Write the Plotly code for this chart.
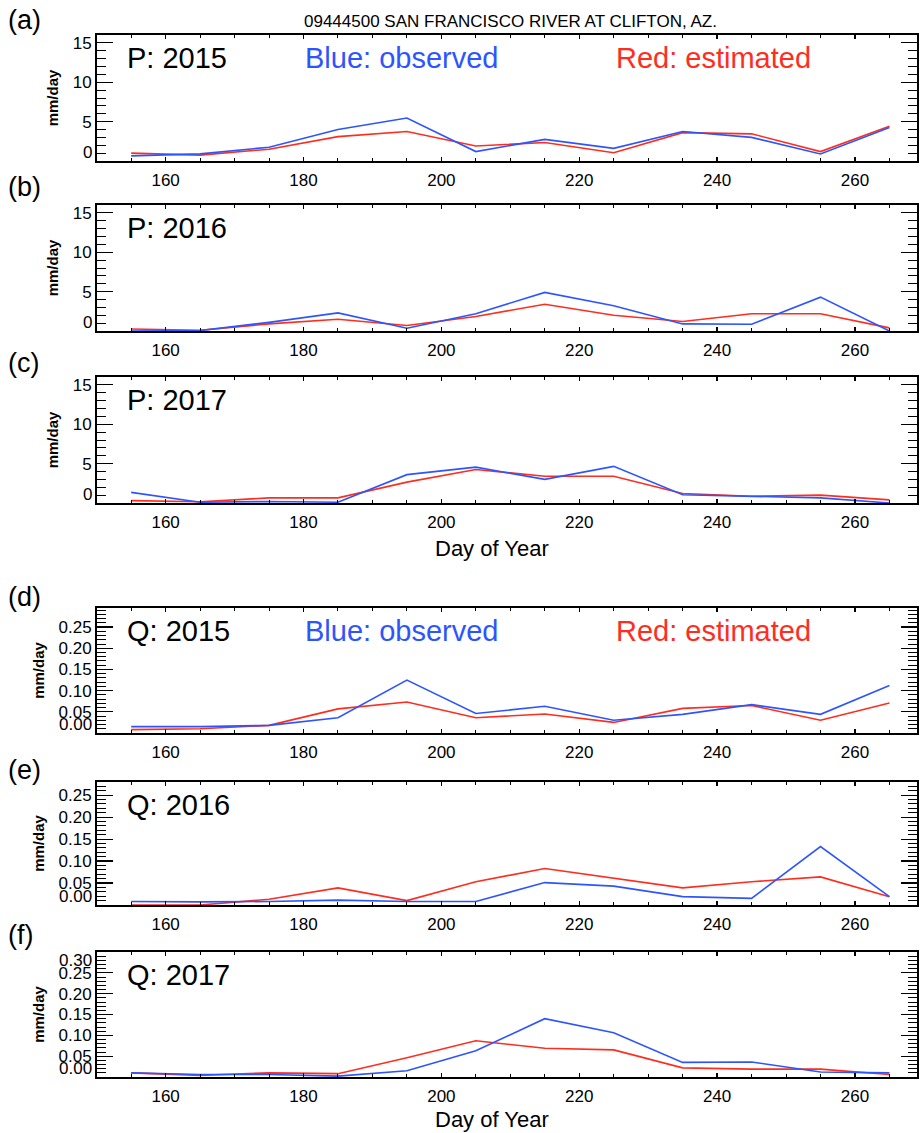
import plotly.graph_objects as go

# ---------------- data ----------------
days = [155, 165, 175, 185, 195, 205, 215, 225, 235, 245, 255, 265]

p_obs_2015 = [0.65, 0.9, 1.75, 4.0, 5.45, 1.2, 2.75, 1.6, 3.75, 3.0, 0.9, 4.25]
p_est_2015 = [1.0, 0.75, 1.5, 3.1, 3.75, 1.9, 2.35, 1.05, 3.6, 3.45, 1.2, 4.4]
p_obs_2016 = [0.0, 0.05, 1.1, 2.3, 0.35, 2.2, 4.9, 3.2, 0.9, 0.85, 4.3, 0.0]
p_est_2016 = [0.25, 0.1, 0.9, 1.5, 0.7, 1.85, 3.4, 2.0, 1.2, 2.2, 2.2, 0.4]
p_obs_2017 = [1.35, 0.1, 0.2, 0.1, 3.6, 4.55, 3.0, 4.65, 1.05, 0.85, 0.65, 0.0]
p_est_2017 = [0.3, 0.15, 0.65, 0.65, 2.65, 4.25, 3.4, 3.4, 1.2, 0.85, 1.0, 0.4]

q_obs_2015 = [0.015, 0.015, 0.018, 0.036, 0.125, 0.046, 0.063, 0.030, 0.044, 0.067, 0.044, 0.112]
q_est_2015 = [0.008, 0.010, 0.018, 0.057, 0.073, 0.036, 0.045, 0.025, 0.058, 0.065, 0.030, 0.071]
q_obs_2016 = [0.008, 0.007, 0.008, 0.011, 0.008, 0.008, 0.051, 0.043, 0.019, 0.015, 0.133, 0.019]
q_est_2016 = [0.0, 0.0, 0.013, 0.039, 0.010, 0.053, 0.083, 0.061, 0.039, 0.053, 0.064, 0.019]
q_obs_2017 = [0.010, 0.006, 0.006, 0.002, 0.015, 0.063, 0.140, 0.106, 0.035, 0.036, 0.012, 0.010]
q_est_2017 = [0.010, 0.004, 0.010, 0.008, 0.046, 0.087, 0.069, 0.065, 0.022, 0.019, 0.019, 0.006]

panel_letters = ["(a)", "(b)", "(c)", "(d)", "(e)", "(f)"]
panel_names = ["P: 2015", "P: 2016", "P: 2017", "Q: 2015", "Q: 2016", "Q: 2017"]
title_text = "09444500 SAN FRANCISCO RIVER AT CLIFTON, AZ."
x_title = "Day of Year"

p_ticks = [0, 5, 10, 15]
q_ticks = [0.0, 0.05, 0.10, 0.15, 0.20, 0.25, 0.30]

# ---------------- layout geometry (pixels) ----------------
W, H = 920, 1133
X0, X1 = 96.7, 917.0
boxes = [(35, 161), (205, 331), (377, 503), (608, 733), (782, 905), (952, 1077)]
letter_y = [20, 187, 363, 597, 770, 935]
xtitle_y = {2: 548, 5: 1119}
yranges = [[0, 16], [0, 16], [0, 16], [0, 0.295], [0, 0.28], [0, 0.30]]

BLUE = "rgb(45,85,255)"
RED = "rgb(255,45,30)"
FONT = "Liberation Sans"
TICK_SIZE = 17

series = [
    (p_obs_2015, p_est_2015), (p_obs_2016, p_est_2016), (p_obs_2017, p_est_2017),
    (q_obs_2015, q_est_2015), (q_obs_2016, q_est_2016), (q_obs_2017, q_est_2017),
]

fig = go.Figure()
annotations = []

def px_x(x):
    return x / W

def px_y(y):
    return 1 - y / H

for i, (obs, est) in enumerate(series):
    n = "" if i == 0 else str(i + 1)
    xa, ya = "x" + n, "y" + n
    fig.add_trace(go.Scatter(x=days, y=est, mode="lines", line=dict(color=RED, width=1.6),
                             xaxis=xa, yaxis=ya, showlegend=False, hoverinfo="skip"))
    fig.add_trace(go.Scatter(x=days, y=obs, mode="lines", line=dict(color=BLUE, width=1.6),
                             xaxis=xa, yaxis=ya, showlegend=False, hoverinfo="skip"))
    top, bot = boxes[i]
    is_q = i >= 3
    ticks = q_ticks if is_q else p_ticks
    lo, hi = yranges[i]
    tv = [t for t in ticks if lo <= t <= hi + 1e-9]
    fmt = (lambda t: f"{t:.2f}") if is_q else (lambda t: f"{t:g}")
    tt = []
    for t in tv:
        if abs(t - lo) < 1e-9 or abs(t - hi) < 1e-9:
            tt.append("")
        else:
            tt.append(fmt(t))
    fig.layout["xaxis" + n] = dict(
        domain=[px_x(X0), px_x(X1)], anchor=ya, range=[150, 269], automargin=False,
        tick0=160, dtick=20, ticks="inside", ticklen=4, tickwidth=1.2, tickcolor="black",
        minor=dict(dtick=5, tick0=150, ticks="inside", ticklen=3, tickwidth=1, tickcolor="black"),
        showline=True, linecolor="black", linewidth=1.6, mirror="allticks",
        showgrid=False, zeroline=False, ticklabelstandoff=3,
        tickfont=dict(family=FONT, size=TICK_SIZE, color="black"),
    )
    fig.layout["yaxis" + n] = dict(
        domain=[px_y(bot), px_y(top)], anchor=xa, range=[lo, hi], automargin=False,
        tickvals=tv, ticktext=tt, ticks="inside", ticklen=16, tickwidth=1.2, tickcolor="black",
        minor=dict(dtick=0.01 if is_q else 1, tick0=0, ticks="inside", ticklen=9,
                   tickwidth=1, tickcolor="black"),
        showline=True, linecolor="black", linewidth=1.6, mirror="allticks",
        showgrid=False, zeroline=False,
        tickfont=dict(family=FONT, size=TICK_SIZE, color="black"),
        title=dict(text="<b>mm/day</b>", font=dict(family=FONT, size=15, color="black"), standoff=10),
    )
    for t in tv:
        if abs(t - lo) < 1e-9:
            annotations.append(dict(x=0, xref=xa + " domain", y=t, yref=ya, text=fmt(t),
                                    showarrow=False, xanchor="right", yanchor="bottom",
                                    xshift=-3, yshift=-3,
                                    font=dict(family=FONT, size=TICK_SIZE, color="black")))
        elif abs(t - hi) < 1e-9:
            annotations.append(dict(x=0, xref=xa + " domain", y=t, yref=ya, text=fmt(t),
                                    showarrow=False, xanchor="right", yanchor="top",
                                    xshift=-3, yshift=3,
                                    font=dict(family=FONT, size=TICK_SIZE, color="black")))
    annotations.append(dict(x=px_x(6), y=px_y(letter_y[i]), xref="paper", yref="paper",
                            text=panel_letters[i], showarrow=False, xanchor="left", yanchor="middle",
                            font=dict(family=FONT, size=27, color="black")))
    annotations.append(dict(x=px_x(125), y=px_y(top + 23), xref="paper", yref="paper",
                            text=panel_names[i], showarrow=False, xanchor="left", yanchor="middle",
                            font=dict(family=FONT, size=29, color="black")))
    if i in (0, 3):
        annotations.append(dict(x=px_x(303), y=px_y(top + 23), xref="paper", yref="paper",
                                text="Blue: observed", showarrow=False, xanchor="left", yanchor="middle",
                                font=dict(family=FONT, size=29, color=BLUE)))
        annotations.append(dict(x=px_x(614), y=px_y(top + 23), xref="paper", yref="paper",
                                text="Red: estimated", showarrow=False, xanchor="left", yanchor="middle",
                                font=dict(family=FONT, size=29, color=RED)))
    if i in xtitle_y:
        annotations.append(dict(x=px_x(492), y=px_y(xtitle_y[i]), xref="paper", yref="paper",
                                text=x_title, showarrow=False, xanchor="center", yanchor="middle",
                                font=dict(family=FONT, size=22, color="black")))

annotations.append(dict(x=px_x(510), y=px_y(21), xref="paper", yref="paper", text=title_text,
                        showarrow=False, xanchor="center", yanchor="middle",
                        font=dict(family=FONT, size=17, color="black")))

fig.update_layout(width=W, height=H, margin=dict(l=0, r=0, t=0, b=0),
                  paper_bgcolor="white", plot_bgcolor="white",
                  annotations=annotations, showlegend=False, hovermode=False)

fig.write_html("out.html", config={"displayModeBar": False, "staticPlot": True},
               post_script="document.body.style.margin='0';document.body.style.overflow='hidden';")
